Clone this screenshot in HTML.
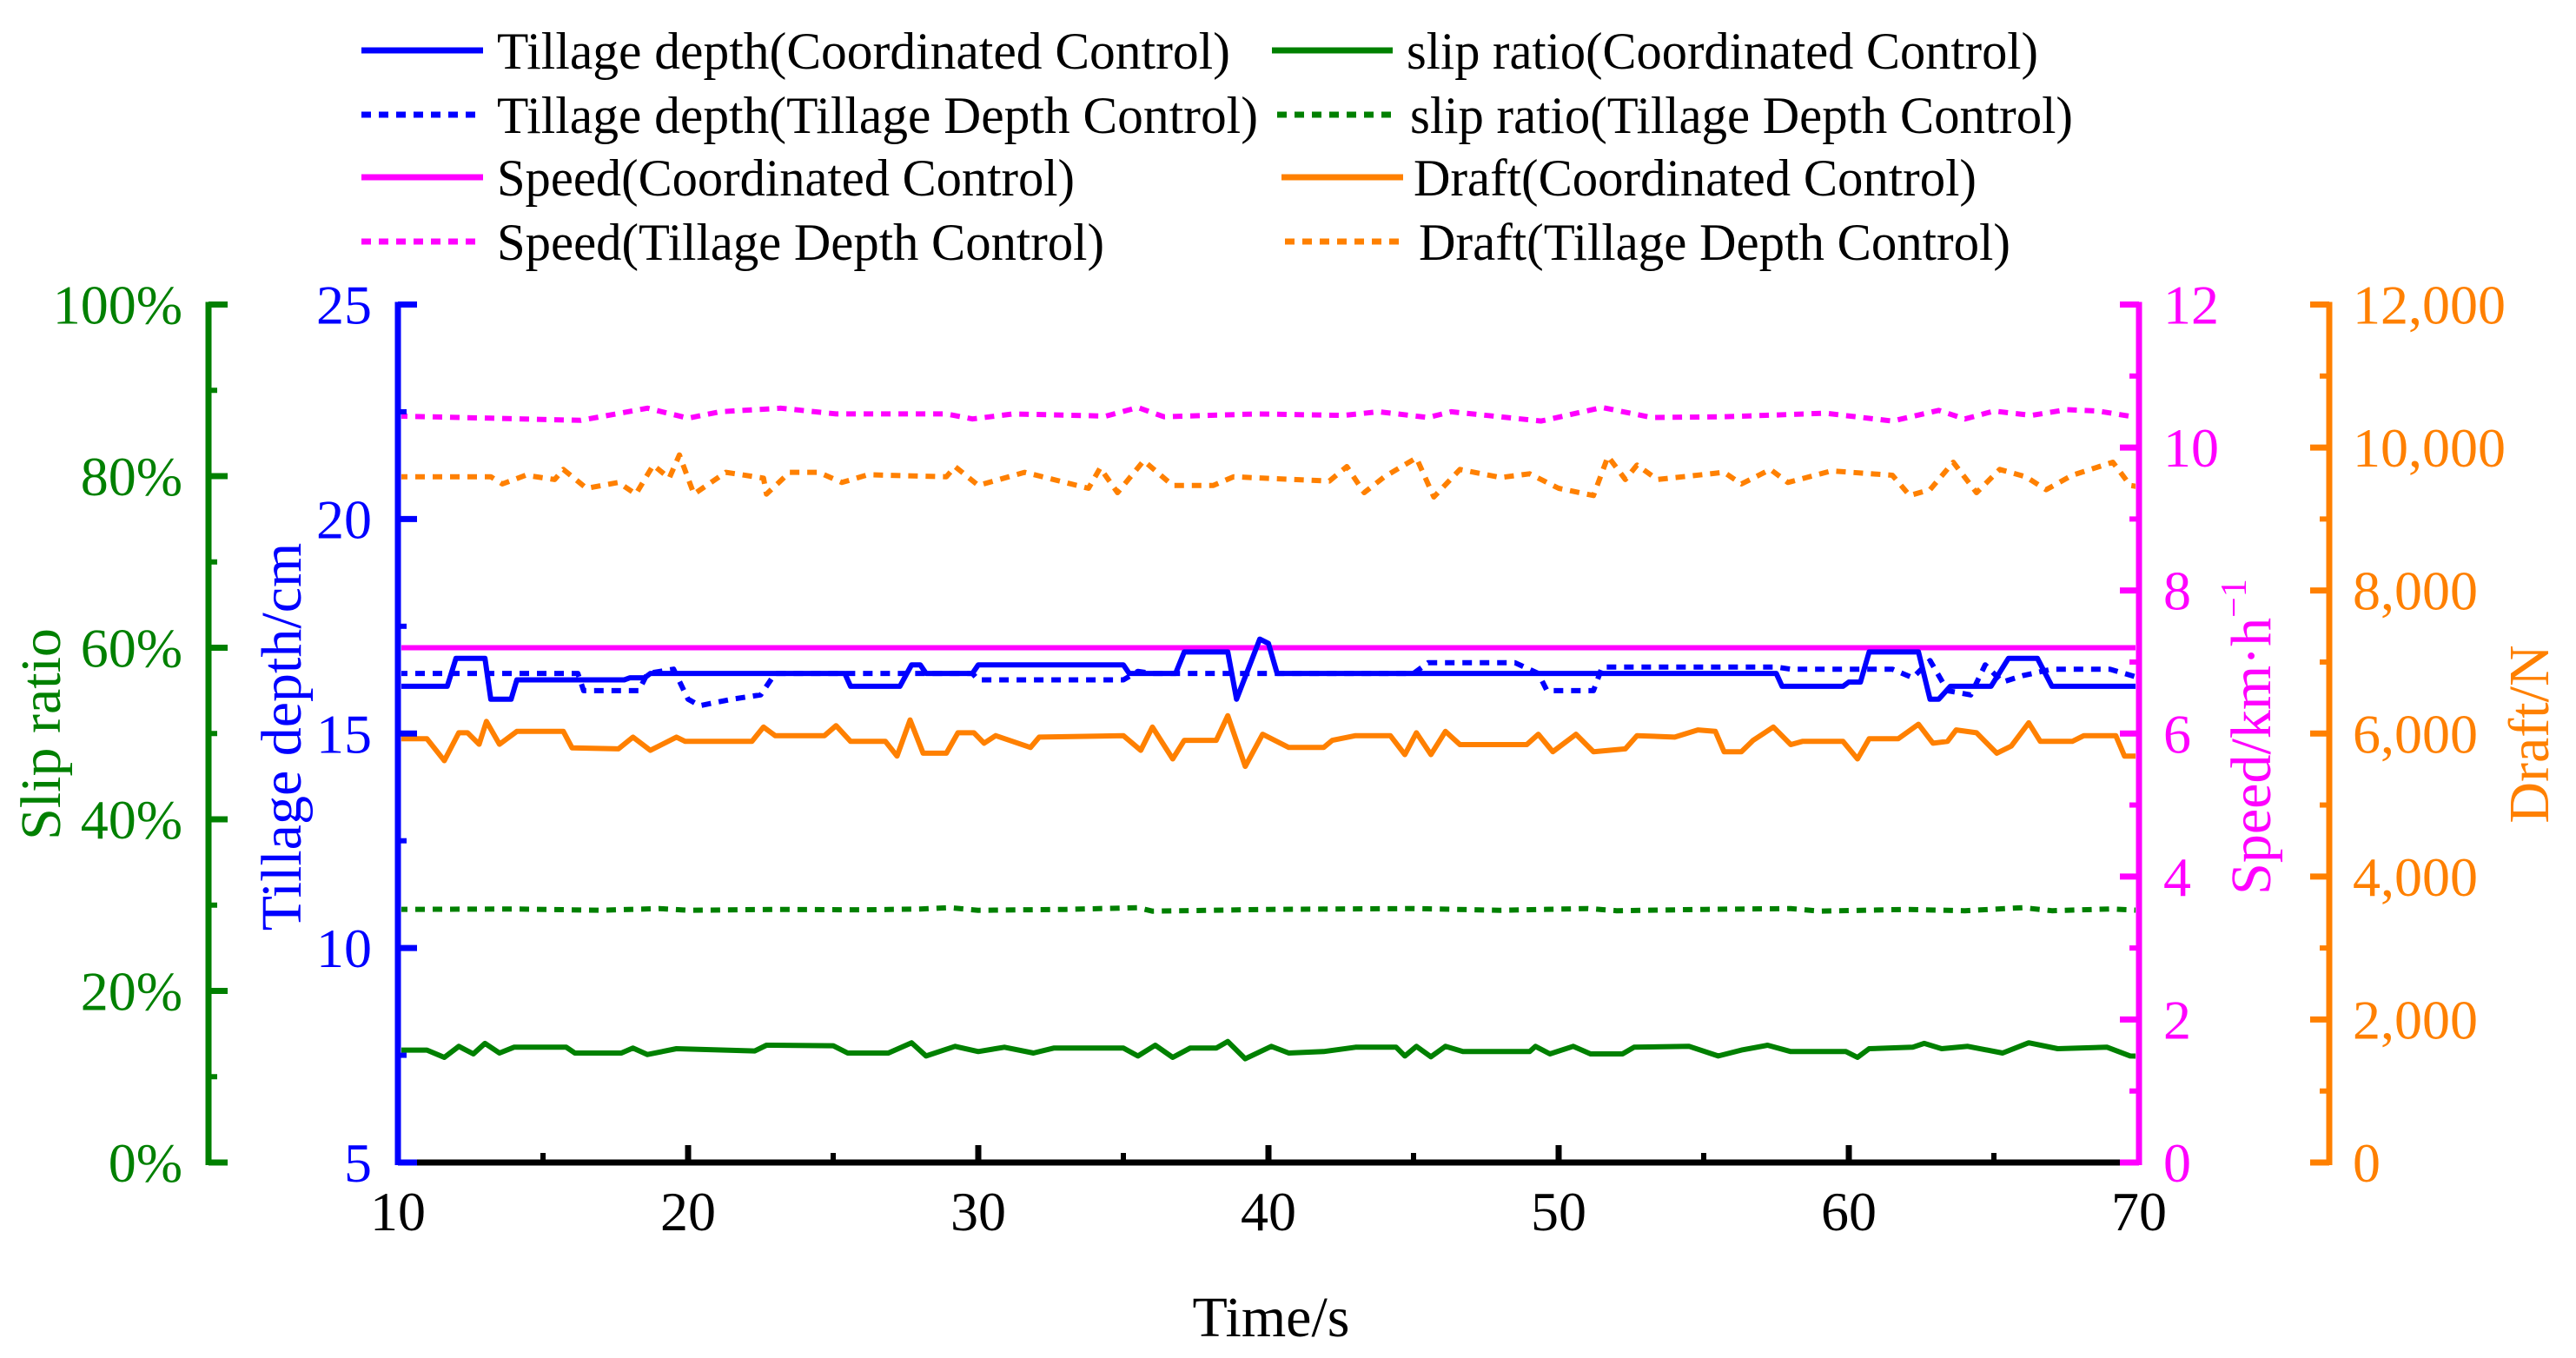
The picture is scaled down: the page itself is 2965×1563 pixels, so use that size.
<!DOCTYPE html>
<html><head><meta charset="utf-8"><style>
html,body{margin:0;padding:0;background:#fff;}
svg{display:block;font-family:"Liberation Serif",serif;}
</style></head><body>
<svg id="chart" width="2965" height="1563" viewBox="0 0 2965 1563" xmlns="http://www.w3.org/2000/svg">
<defs><clipPath id="plotclip"><rect x="462" y="340" width="1996" height="1000"/></clipPath></defs>
<g id="series" clip-path="url(#plotclip)"></g>
<g id="axes"></g>
<g id="legend"></g>
</svg>
<script>
// ---- data (time in s) ----
const tillCC_t = [10,11.7,12.0,13.0,13.2,13.9,14.1,17.8,18.0,18.5,18.7,25.4,25.6,27.3,27.7,28.0,28.2,29.8,30.0,35.0,35.2,36.8,37.1,38.6,38.9,39.7,40.0,40.3,57.5,57.7,59.8,60.0,60.4,60.7,62.4,62.8,63.1,63.5,64.9,65.5,66.5,67,70];
const tillCC_v = [16.1,16.1,16.75,16.75,15.8,15.8,16.25,16.25,16.3,16.3,16.4,16.4,16.1,16.1,16.6,16.6,16.4,16.4,16.6,16.6,16.4,16.4,16.9,16.9,15.8,17.2,17.1,16.4,16.4,16.1,16.1,16.2,16.2,16.9,16.9,15.8,15.8,16.1,16.1,16.75,16.75,16.1,16.1];
const tillTD_t = [10,16.2,16.4,18.3,18.6,19.5,20.0,20.4,21.5,22.5,23.0,29.8,30.0,35.0,35.5,36,45.0,45.5,48.5,49.3,49.6,51.2,51.5,57.5,58,61.5,62.2,62.8,63.4,64.2,64.7,65.3,66.0,67.0,69,70];
const tillTD_v = [16.4,16.4,16.0,16.0,16.4,16.5,15.8,15.65,15.8,15.9,16.4,16.4,16.25,16.25,16.45,16.4,16.4,16.65,16.65,16.4,16.0,16.0,16.55,16.55,16.5,16.5,16.3,16.7,16.0,15.9,16.6,16.2,16.35,16.5,16.5,16.3];
const speedCC_t = [10,70];
const speedCC_v = [7.2,7.2];
const speedTD_t = [10,13.2,16.3,18.6,20.0,21.1,23.2,25.1,28.9,29.8,31.2,34.4,35.5,36.4,39.6,42.6,43.8,45.5,46.3,49.4,51.5,53.2,55.7,59.2,61.5,63.1,64.0,65.0,66.3,67.5,68.6,69.8,70];
const speedTD_v = [10.44,10.41,10.38,10.55,10.41,10.50,10.55,10.47,10.47,10.40,10.47,10.44,10.56,10.43,10.47,10.45,10.50,10.42,10.50,10.37,10.56,10.42,10.43,10.48,10.37,10.52,10.40,10.51,10.45,10.53,10.51,10.43,10.42];
const draftCC_t = [10,11.0,11.6,12.1,12.4,12.8,13.05,13.5,14.1,15.7,16.0,17.6,18.1,18.7,19.6,19.9,22.2,22.6,23.0,24.7,25.1,25.6,26.8,27.2,27.65,28.1,28.9,29.3,29.85,30.2,30.6,31.8,32.1,35.0,35.6,36.0,36.7,37.1,38.2,38.6,39.2,39.8,40.7,41.9,42.2,43.0,44.2,44.7,45.1,45.6,46.1,46.6,48.9,49.3,49.8,50.6,51.2,52.3,52.7,54.0,54.8,55.4,55.7,56.3,56.7,57.4,58.0,58.4,59.8,60.3,60.7,61.7,62.4,62.9,63.4,63.7,64.4,65.1,65.6,66.2,66.6,67.7,68.1,69.2,69.5,70];
const draftCC_v = [5927,5927,5620,6010,6010,5850,6170,5850,6030,6030,5800,5785,5950,5765,5950,5890,5890,6090,5970,5970,6110,5890,5890,5685,6190,5725,5725,6010,6010,5865,5970,5805,5950,5970,5765,6090,5645,5905,5905,6250,5540,5990,5805,5805,5905,5970,5970,5705,6010,5705,6030,5845,5845,5990,5745,5990,5745,5785,5970,5950,6050,6030,5745,5745,5905,6090,5845,5890,5890,5645,5927,5927,6130,5865,5890,6050,6010,5725,5825,6150,5890,5890,5970,5970,5685,5685];
const draftTD_t = [10,13.2,13.6,14.4,15.4,15.7,16.5,17.6,18.2,18.8,19.35,19.7,20.2,21.3,22.6,22.7,23.5,24.5,25.3,26.2,28.9,29.2,30.0,31.6,33.8,34.2,34.8,35.7,36.7,38.1,38.8,39.8,42.1,42.7,43.3,44.0,45.1,45.7,46.6,48.0,49.0,50.0,51.2,51.7,52.3,52.7,53.4,55.7,56.3,57.3,57.9,59.4,61.5,62.1,62.8,63.6,64.4,65.2,66.1,66.8,67.7,69.1,69.7,70];
const draftTD_v = [9592,9592,9491,9612,9552,9693,9430,9511,9349,9754,9572,9896,9349,9653,9572,9349,9653,9653,9511,9620,9592,9734,9470,9653,9430,9714,9369,9815,9470,9470,9592,9572,9531,9734,9369,9592,9855,9308,9693,9580,9633,9430,9329,9876,9552,9754,9552,9653,9491,9693,9511,9673,9612,9329,9410,9795,9369,9693,9592,9410,9612,9795,9470,9450];
const slipCC_t = [10,11.0,11.6,12.1,12.6,13.0,13.5,14.0,15.8,16.1,17.7,18.1,18.6,19.6,22.3,22.7,25.0,25.5,26.9,27.7,28.2,29.2,30.0,30.9,31.9,32.6,35.0,35.5,36.1,36.7,37.3,38.2,38.6,39.2,40.1,40.7,41.9,43.0,44.4,44.7,45.1,45.6,46.1,46.7,49.0,49.2,49.7,50.5,51.1,52.2,52.6,54.5,55.5,56.3,57.2,58.0,59.9,60.3,60.7,62.2,62.6,63.2,64.1,65.3,66.2,67.2,68.9,69.7,70];
const slipCC_v = [13.1,13.1,12.25,13.54,12.66,13.88,12.76,13.44,13.44,12.76,12.76,13.34,12.59,13.27,13.0,13.67,13.61,12.76,12.76,13.95,12.42,13.54,12.93,13.44,12.76,13.34,13.34,12.42,13.67,12.25,13.34,13.34,14.11,12.09,13.54,12.76,12.93,13.44,13.44,12.42,13.54,12.32,13.54,12.93,12.93,13.54,12.66,13.54,12.66,12.66,13.44,13.54,12.42,13.1,13.67,12.93,12.93,12.25,13.27,13.44,13.88,13.27,13.54,12.76,13.95,13.27,13.44,12.42,12.4];
const slipTD_t = [10,14,17,19,20,23,26,28,29,30,33,35.5,36,40,45,48,51,52,55,58,59,62,64,66,67,69,70];
const slipTD_v = [29.5,29.55,29.4,29.6,29.4,29.5,29.45,29.55,29.7,29.4,29.5,29.7,29.3,29.5,29.6,29.4,29.6,29.35,29.5,29.6,29.3,29.5,29.35,29.7,29.35,29.55,29.4];
const xTicks = [10,20,30,40,50,60,70];
const slipTicks = [0,20,40,60,80,100];
const tillTicks = [5,10,15,20,25];
const speedTicks = [0,2,4,6,8,10,12];
const draftTicks = [0,2000,4000,6000,8000,10000,12000];
const draftTickLabels = ["0","2,000","4,000","6,000","8,000","10,000","12,000"];

// ---- scales ----
const X0=458, X1=2462, YT=350.5, YB=1338;
const xS = t => X0 + (t-10)/60*(X1-X0);
const lin = (a,b) => v => YB - (v-a)/(b-a)*(YB-YT);
const ySlip=lin(0,100), yTill=lin(5,25), ySpeed=lin(0,12), yDraft=lin(0,12000);
const NS="http://www.w3.org/2000/svg";
const C={blue:"#0000FF",green:"#008000",mag:"#FF00FF",orange:"#FF8000",black:"#000"};
function mk(tag,attrs,parent){const e=document.createElementNS(NS,tag);for(const k in attrs)e.setAttribute(k,attrs[k]);parent.appendChild(e);return e;}
const S=document.getElementById('series'), A=document.getElementById('axes'), L=document.getElementById('legend');

function series(ts,vs,ys,color,dashed,name){
  const d=ts.map((t,i)=>(i?'L':'M')+xS(t).toFixed(1)+' '+ys(vs[i]).toFixed(1)).join(' ');
  const p=mk('path',{d:d,fill:'none',stroke:color,'stroke-width':dashed?6:6,'stroke-linejoin':'round'},S);
  if(dashed) p.setAttribute('stroke-dasharray','11 9');
  
  
}
series(slipTD_t,slipTD_v,ySlip,C.green,true,'slip-ratio-tdc-line');
series(slipCC_t,slipCC_v,ySlip,C.green,false,'slip-ratio-cc-line');
series(draftTD_t,draftTD_v,yDraft,C.orange,true,'draft-tdc-line');
series(draftCC_t,draftCC_v,yDraft,C.orange,false,'draft-cc-line');
series(speedTD_t,speedTD_v,ySpeed,C.mag,true,'speed-tdc-line');
series(speedCC_t,speedCC_v,ySpeed,C.mag,false,'speed-cc-line');
series(tillCC_t,tillCC_v,yTill,C.blue,false,'tillage-depth-cc-line');
series(tillTD_t,tillTD_v,yTill,C.blue,true,'tillage-depth-tdc-line');

function line(x1,y1,x2,y2,c,w,name){const l=mk('line',{x1,y1,x2,y2,stroke:c,'stroke-width':w},A);
  
  }
function text(x,y,s,c,size,anchor,name,extra){const t=mk('text',Object.assign({x,y,fill:c,'font-size':size,'text-anchor':anchor},extra||{}),A);t.textContent=s;
  
  return t;}

// x axis
line(X0,YB,X1,YB,C.black,7,'x-axis-line');
xTicks.forEach(t=>{ if(t>10&&t<70) line(xS(t),YB,xS(t),YB-20,C.black,7,'x-tick'); text(xS(t),1416,String(t),C.black,64,'middle','x-tick-label');});
for(let t=15;t<70;t+=10) line(xS(t),YB,xS(t),YB-11,C.black,6,'x-minor-tick');
text(1463,1538,'Time/s',C.black,66,'middle','x-axis-title');

// slip axis
const SX=240;
line(SX,YT-3,SX,YB+3,C.green,7,'slip-axis-line');
slipTicks.forEach(v=>{line(SX,ySlip(v),SX+22,ySlip(v),C.green,7,'slip-tick');text(210,ySlip(v)+22,v+'%',C.green,64,'end','slip-tick-label');});
for(let v=10;v<100;v+=20) line(SX,ySlip(v),SX+10,ySlip(v),C.green,6,'slip-minor-tick');
text(0,0,'Slip ratio',C.green,66,'middle','slip-axis-title',{transform:'translate(69,845) rotate(-90)'});

// tillage axis
const TX=458;
line(TX,YT-3,TX,YB+3,C.blue,7,'tillage-axis-line');
tillTicks.forEach(v=>{line(TX,yTill(v),TX+22,yTill(v),C.blue,7,'tillage-tick');text(428,yTill(v)+22,String(v),C.blue,64,'end','tillage-tick-label');});
for(let v=7.5;v<25;v+=5) line(TX,yTill(v),TX+10,yTill(v),C.blue,6,'tillage-minor-tick');
text(0,0,'Tillage depth/cm',C.blue,66,'middle','tillage-axis-title',{transform:'translate(346,848) rotate(-90)'});

// speed axis
const PX=2462;
line(PX,YT-3,PX,YB+3,C.mag,7,'speed-axis-line');
speedTicks.forEach(v=>{line(PX,ySpeed(v),PX-22,ySpeed(v),C.mag,7,'speed-tick');text(2490,ySpeed(v)+22,String(v),C.mag,64,'start','speed-tick-label');});
for(let v=1;v<12;v+=2) line(PX,ySpeed(v),PX-11,ySpeed(v),C.mag,6,'speed-minor-tick');
const st=text(0,0,'Speed/km·h',C.mag,66,'middle','speed-axis-title',{transform:'translate(2613,848) rotate(-90)'});
const sup=mk('tspan',{dy:-28,'font-size':42},st); sup.textContent='−1';



// draft axis
const DX=2681;
line(DX,YT-3,DX,YB+3,C.orange,7,'draft-axis-line');
draftTicks.forEach((v,i)=>{line(DX,yDraft(v),DX-22,yDraft(v),C.orange,7,'draft-tick');text(2708,yDraft(v)+22,draftTickLabels[i],C.orange,64,'start','draft-tick-label');});
for(let v=1000;v<12000;v+=2000) line(DX,yDraft(v),DX-11,yDraft(v),C.orange,6,'draft-minor-tick');
text(0,0,'Draft/N',C.orange,66,'middle','draft-axis-title',{transform:'translate(2933,845) rotate(-90)'});

// legend
const legendItems=[
 [416,556,58,572,1416,'Tillage depth(Coordinated Control)',C.blue,false,'legend-tillage-cc'],
 [416,556,132,572,1448,'Tillage depth(Tillage Depth Control)',C.blue,true,'legend-tillage-tdc'],
 [416,556,204,572,1237,'Speed(Coordinated Control)',C.mag,false,'legend-speed-cc'],
 [416,556,278,572,1271,'Speed(Tillage Depth Control)',C.mag,true,'legend-speed-tdc'],
 [1464,1603,58,1619,2346,'slip ratio(Coordinated Control)',C.green,false,'legend-slip-cc'],
 [1470,1610,132,1623,2386,'slip ratio(Tillage Depth Control)',C.green,true,'legend-slip-tdc'],
 [1475,1615,204,1627,2275,'Draft(Coordinated Control)',C.orange,false,'legend-draft-cc'],
 [1479,1617,278,1633,2314,'Draft(Tillage Depth Control)',C.orange,true,'legend-draft-tdc']];
legendItems.forEach(it=>{
  const g=mk('g',{},L);
  
  
  const l=mk('line',{x1:it[0],y1:it[2],x2:it[1],y2:it[2],stroke:it[6],'stroke-width':7},g);
  if(it[7]) l.setAttribute('stroke-dasharray','11 9');
  
  
  const t=mk('text',{x:it[3],y:it[2]+21,fill:'#000','font-size':60,textLength:it[4]-it[3],lengthAdjust:'spacingAndGlyphs'},g);
  t.textContent=it[5];
  
  
});
</script>
</body></html>
